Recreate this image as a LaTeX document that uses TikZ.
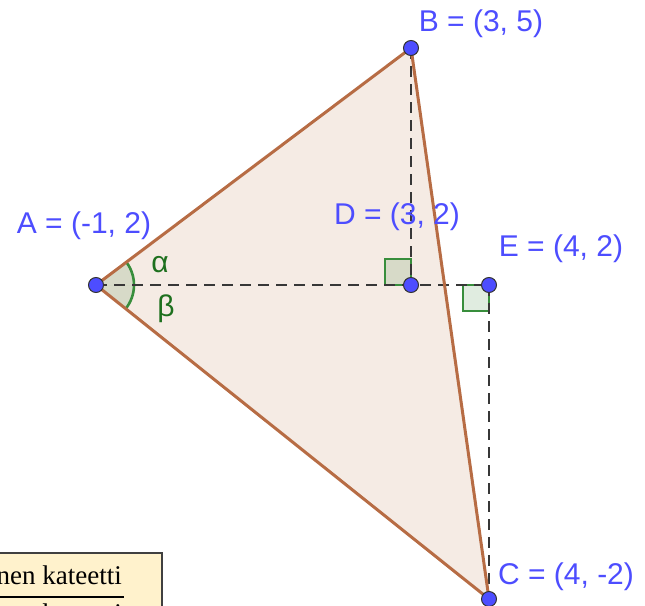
\documentclass[tikz,border=0pt]{standalone}
\usepackage{fontspec}
\setmainfont{Liberation Sans}
\newfontfamily\boxserif{Liberation Serif}
\definecolor{edgebrown}{RGB}{183,108,68}
\definecolor{trifill}{RGB}{245,235,228}
\definecolor{ptblue}{RGB}{77,77,255}
\definecolor{anggreen}{RGB}{56,142,60}
\definecolor{lblgreen}{RGB}{30,112,30}
\definecolor{dashgray}{RGB}{55,55,55}
\definecolor{boxfill}{RGB}{255,242,204}
\begin{document}
\begin{tikzpicture}[x=1pt,y=-1pt,
  pt/.style={circle,fill=ptblue,draw=black!80,line width=1pt,inner sep=0pt,minimum size=15pt},
  lbl/.style={text=ptblue,font=\fontsize{30}{35}\selectfont,inner sep=0pt},
  glbl/.style={text=lblgreen,font=\fontsize{30}{35}\selectfont,inner sep=0pt},
  dashln/.style={draw=dashgray,line width=2.6pt,dash pattern=on 11pt off 7pt},
  edge/.style={draw=edgebrown,line width=3pt},
  angmark/.style={draw=anggreen,line width=2.6pt,fill=green!40!black,fill opacity=0.12}
]
\useasboundingbox (0,0) rectangle (645,605);
\coordinate (A) at (96,285);
\coordinate (B) at (411,48);
\coordinate (C) at (489,599);
\coordinate (D) at (411,285);
\coordinate (E) at (489,285);
% triangle fill
\fill[trifill] (A) -- (B) -- (C) -- cycle;
% angle sectors
\fill[green!40!black,fill opacity=0.12] (A) -- ++(38,0) arc[start angle=0,end angle=-36.96,radius=38] -- cycle;
\fill[green!40!black,fill opacity=0.12] (A) -- ++(38,0) arc[start angle=0,end angle=38.7,radius=38] -- cycle;
\draw[anggreen,line width=2.6pt] (A) ++(-36.96:38) arc[start angle=-36.96,end angle=38.7,radius=38];
% right angle marks
\draw[angmark] (D) rectangle ++(-26,-26);
\draw[angmark] (E) rectangle ++(-26,26);
% dashed lines
\draw[dashln] (A) -- (E);
\draw[dashln] (B) -- (D);
\draw[dashln] (E) -- (C);
% triangle edges
\draw[edge,line join=round] (A) -- (B) -- (C) -- cycle;
% points
\node[pt] (pA) at (A) {};
\node[pt] (pB) at (B) {};
\node[pt] (pC) at (C) {};
\node[pt] (pD) at (D) {};
\node[pt] (pE) at (E) {};
% labels
\node[lbl] (lA) at (84,226) {A = (-1, 2)};
\node[lbl] (lB) at (481,24) {B = (3, 5)};
\node[lbl] (lD) at (397,217) {D = (3, 2)};
\node[lbl] (lE) at (561,249) {E = (4, 2)};
\node[lbl] (lC) at (566,577) {C = (4, -2)};
\node[glbl] (al) at (160,265) {α};
\node[glbl] (be) at (166,309) {β};
% info box (partly outside)
\begin{scope}
\clip (0,0) rectangle (645,605);
\draw[fill=boxfill,draw=black!75,line width=1.4pt] (-150,553) rectangle (162,680);
\draw[black,line width=2.2pt] (-150,597) -- (124,597);
\node[anchor=base east,inner sep=0pt,font=\boxserif\fontsize{27}{32}\selectfont] (num) at (122,584) {vastainen kateetti};
\node[anchor=base east,inner sep=0pt,font=\boxserif\fontsize{27}{32}\selectfont] (den) at (122,622) {viereinen kateetti};
\end{scope}
\end{tikzpicture}
\end{document}
